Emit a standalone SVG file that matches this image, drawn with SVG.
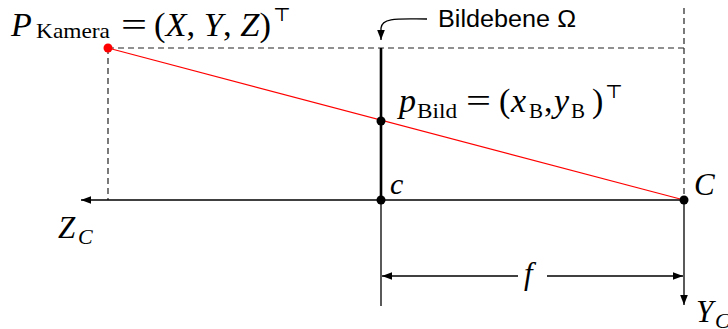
<svg xmlns="http://www.w3.org/2000/svg" width="728" height="329" viewBox="0 0 728 329">
<style>
.m{font-family:"Liberation Serif","DejaVu Serif",serif;fill:#000}
.i{font-style:italic}
.s{font-family:"Liberation Sans",Arial,sans-serif;fill:#000}
.d{stroke:#222;stroke-width:1.2;stroke-dasharray:6,4;fill:none}
.l{stroke:#000;stroke-width:1.3;fill:none}
</style>
<defs>
<marker id="ah" markerWidth="12" markerHeight="10" refX="10" refY="5" orient="auto" markerUnits="userSpaceOnUse">
<path d="M0,1.2 L10,5 L0,8.8 Z" fill="#000"/>
</marker>
</defs>
<rect width="728" height="329" fill="#fff"/>
<g id="connectors">
<line class="d" x1="108" y1="48" x2="684" y2="48"/>
<line class="d" x1="108" y1="48" x2="108" y2="200"/>
<line class="d" x1="684" y1="8" x2="684" y2="200"/>
<line class="l" x1="684" y1="200" x2="81" y2="200" marker-end="url(#ah)"/>
<line class="l" x1="684" y1="200" x2="684" y2="305" marker-end="url(#ah)"/>
<line class="l" x1="381" y1="200" x2="381" y2="306"/>
<line stroke="#000" stroke-width="2.6" x1="381" y1="48" x2="381" y2="200"/>
<line stroke="#f00" stroke-width="1.2" x1="108" y1="48" x2="684" y2="200"/>
<line class="l" x1="518" y1="276" x2="382" y2="276" marker-end="url(#ah)"/>
<line class="l" x1="547" y1="276" x2="683" y2="276" marker-end="url(#ah)"/>
<path class="l" d="M427,19 C400,19 382,17 381,28 L381,40" marker-end="url(#ah)"/>
</g>
<g id="P">
<circle cx="108" cy="48" r="4.5" fill="#f00"/>
<text class="m" font-size="34"><tspan class="i" x="11" y="36">P</tspan><tspan x="36" y="38" font-size="21" textLength="74" lengthAdjust="spacingAndGlyphs">Kamera</tspan><tspan x="121" y="36" textLength="26" lengthAdjust="spacingAndGlyphs">=</tspan><tspan x="154" y="36" textLength="117" lengthAdjust="spacingAndGlyphs"><tspan>(</tspan><tspan class="i">X</tspan><tspan>, </tspan><tspan class="i">Y</tspan><tspan>, </tspan><tspan class="i">Z</tspan><tspan>)</tspan></tspan><tspan x="273" y="21" font-size="19">⊤</tspan></text>
</g>
<g id="pBild">
<circle cx="381" cy="121" r="4.5" fill="#000"/>
<text class="m" font-size="34"><tspan class="i" x="399" y="112">p</tspan><tspan x="417" y="118" font-size="21" textLength="40" lengthAdjust="spacingAndGlyphs">Bild</tspan><tspan x="466" y="112" textLength="25" lengthAdjust="spacingAndGlyphs">=</tspan><tspan x="499" y="112">(</tspan><tspan class="i" x="511" y="112">x</tspan><tspan x="529" y="118" font-size="21">B</tspan><tspan x="544" y="112">,</tspan><tspan class="i" x="554" y="112">y</tspan><tspan x="571" y="118" font-size="21">B</tspan><tspan x="592" y="112">)</tspan><tspan x="605" y="98" font-size="19">⊤</tspan></text>
</g>
<g id="bildebene">
<text class="s" x="438" y="27" font-size="23" textLength="138" lengthAdjust="spacingAndGlyphs">Bildebene Ω</text>
</g>
<g id="c">
<circle cx="381" cy="200" r="4.5" fill="#000"/>
<text class="m i" x="390" y="194" font-size="30">c</text>
</g>
<g id="C">
<circle cx="684" cy="200" r="4.5" fill="#000"/>
<text class="m i" x="694" y="195" font-size="31">C</text>
</g>
<g id="ZC">
<text class="m i" font-size="31"><tspan x="58" y="238">Z</tspan><tspan x="78" y="244" font-size="22">C</tspan></text>
</g>
<g id="YC">
<text class="m i" font-size="31"><tspan x="696" y="322">Y</tspan><tspan x="715" y="328" font-size="22">C</tspan></text>
</g>
<g id="f">
<text class="m i" x="524" y="284" font-size="31">f</text>
</g>
</svg>
